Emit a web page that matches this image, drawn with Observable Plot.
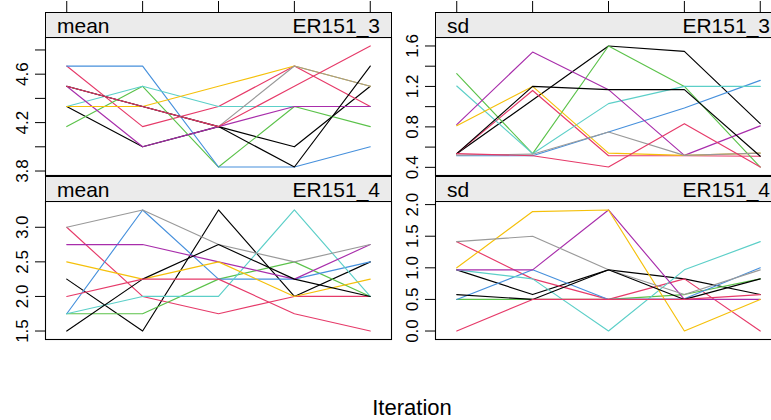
<!DOCTYPE html>
<html><head><meta charset="utf-8">
<script src="https://cdn.jsdelivr.net/npm/d3@7"></script>
<script src="https://cdn.jsdelivr.net/npm/@observablehq/plot@0.6"></script>
<style>
body{margin:0;background:#fff;}
#fig{position:relative;width:771px;height:420px;overflow:hidden;font-family:"Liberation Sans",Arial,Helvetica,sans-serif;background:#fff;}
.panel{position:absolute;}
.panel svg{overflow:visible;background:none;max-width:none;display:block;}
.strip{position:absolute;box-sizing:border-box;border:1px solid #000;background:#ebebeb;font-size:21px;line-height:25px;color:#000;}
.strip .l{position:absolute;left:11px;top:0;}
.strip .r{position:absolute;right:11px;top:0;}
.xlab{position:absolute;left:212px;width:400px;top:397px;text-align:center;font-size:22px;line-height:22px;color:#000;}
</style>
</head><body>
<div id="fig"></div>
<script>
// ---- data ----
const iterations = [1, 2, 3, 4, 5];
const chainColors = ["#000000", "#E63A69", "#5BC24A", "#4690DC", "#5CCFC8",
                     "#A82DAB", "#F5C00A", "#999999", "#000000", "#E63A69"];
const statNames = ["mean", "sd", "mean", "sd"];
const varNames = ["ER151_3", "ER151_3", "ER151_4", "ER151_4"];

const meanER151_3 = [
  [4.333, 4.0, 4.167, 4.0, 4.5],
  [4.667, 4.167, 4.333, 4.667, 4.333],
  [4.167, 4.5, 3.833, 4.333, 4.167],
  [4.667, 4.667, 3.833, 3.833, 4.0],
  [4.333, 4.5, 4.333, 4.333, 4.333],
  [4.5, 4.0, 4.167, 4.333, 4.333],
  [4.333, 4.333, 4.5, 4.667, 4.5],
  [4.5, 4.333, 4.167, 4.667, 4.5],
  [4.5, 4.333, 4.167, 3.833, 4.667],
  [4.5, 4.333, 4.167, 4.5, 4.833]
];
const sdER151_3 = [
  [0.535, 1.065, 1.6, 1.547, 0.832],
  [0.535, 1.16, 0.515, 0.515, 0.51],
  [1.326, 0.535, 1.6, 1.2, 0.403],
  [0.515, 0.515, 0.75, 0.987, 1.26],
  [1.204, 0.535, 1.03, 1.2, 1.2],
  [0.822, 1.54, 1.168, 0.518, 0.81],
  [0.812, 1.2, 0.54, 0.518, 0.54],
  [0.52, 0.53, 0.749, 0.518, 0.54],
  [0.535, 1.2, 1.168, 1.168, 0.51],
  [0.535, 0.515, 0.403, 0.832, 0.403]
];
const meanER151_4 = [
  [2.25, 1.5, 3.25, 2.0, 2.5],
  [3.0, 2.0, 1.75, 2.0, 2.0],
  [1.75, 1.75, 2.25, 2.5, 2.0],
  [1.75, 3.25, 2.25, 2.25, 2.5],
  [1.75, 2.0, 2.0, 3.25, 2.0],
  [2.75, 2.75, 2.5, 2.25, 2.75],
  [2.5, 2.25, 2.5, 2.0, 2.25],
  [3.0, 3.25, 2.75, 2.5, 2.75],
  [1.5, 2.25, 2.75, 2.25, 2.0],
  [2.0, 2.25, 2.25, 1.75, 1.5]
];
const sdER151_4 = [
  [0.968, 0.577, 0.968, 0.825, 0.577],
  [1.414, 0.825, 0.5, 0.825, 0.0],
  [0.5, 0.5, 0.5, 0.577, 0.825],
  [0.5, 0.968, 0.5, 0.51, 1.0],
  [0.968, 0.825, 0.0, 0.968, 1.414],
  [0.968, 0.968, 1.915, 0.5, 0.5],
  [1.0, 1.89, 1.915, 0.0, 0.5],
  [1.414, 1.5, 0.97, 0.577, 0.968],
  [0.577, 0.5, 0.968, 0.5, 0.825],
  [0.0, 0.5, 0.5, 0.5, 0.577]
];

const ticksMean3 = [3.8, 4.0, 4.2, 4.4, 4.6, 4.8];
const labelsMean3 = [3.8, 4.2, 4.6];
const ticksSd3 = [0.4, 0.6, 0.8, 1.0, 1.2, 1.4, 1.6];
const labelsSd3 = [0.4, 0.8, 1.2, 1.6];
const ticksMean4 = [1.5, 2.0, 2.5, 3.0];
const labelsMean4 = [1.5, 2.0, 2.5, 3.0];
const ticksSd4 = [0.0, 0.5, 1.0, 1.5, 2.0];
const labelsSd4 = [0.0, 0.5, 1.0, 1.5, 2.0];
const xLabel = "Iteration";

// ---- layout ----
const seriesList = [meanER151_3, sdER151_3, meanER151_4, sdER151_4];
const tickList = [ticksMean3, ticksSd3, ticksMean4, ticksSd4];
const labelList = [labelsMean3, labelsSd3, labelsMean4, labelsSd4];
const colLeft = [0, 390];
const rowTop = [0, 175];
const rowMarginTop = [37, 26];
const bodyH = 138, marginL = 45, bodyW = 346;
const font = '"Liberation Sans", Arial, Helvetica, sans-serif';

const fig = document.getElementById("fig");

seriesList.forEach((series, p) => {
  const col = p % 2, row = Math.floor(p / 2);
  const rows = [];
  series.forEach((vals, c) => vals.forEach((v, i) =>
    rows.push({chain: c + 1, iter: iterations[i], value: v, color: chainColors[c]})));
  const [lo, hi] = d3.extent(rows, d => d.value);
  const pad = (hi - lo) * 0.07;
  const xpad = (d3.max(iterations) - d3.min(iterations)) * 0.07;
  const labels = labelList[p];
  const mt = rowMarginTop[row];
  const chart = Plot.plot({
    width: marginL + bodyW,
    height: mt + bodyH,
    marginLeft: marginL, marginRight: 0, marginTop: mt, marginBottom: 0,
    style: {fontSize: "17px", fontFamily: font, background: "none", overflow: "visible", color: "#000"},
    x: {domain: [d3.min(iterations) - xpad, d3.max(iterations) + xpad], axis: null},
    y: {domain: [lo - pad, hi + pad], axis: null},
    color: {type: "identity"},
    marks: [
      Plot.axisY({ticks: tickList[p], tickSize: 10, tickRotate: -90, tickPadding: 8, label: null,
        tickFormat: d => labels.some(l => Math.abs(l - d) < 1e-9) ? d.toFixed(1) : ""}),
      row === 0 ? Plot.axisX({anchor: "top", ticks: iterations, tickSize: 12, dy: -25,
        label: null, tickFormat: () => ""}) : null,
      Plot.line(rows, {x: "iter", y: "value", z: "chain", stroke: "color", strokeWidth: 1.15}),
      Plot.frame({stroke: "#000", strokeWidth: 1.1})
    ]
  });
  const wrap = document.createElement("div");
  wrap.className = "panel";
  wrap.style.left = colLeft[col] + "px";
  wrap.style.top = rowTop[row] + "px";
  wrap.style.width = (marginL + bodyW) + "px";
  wrap.appendChild(chart);
  fig.appendChild(wrap);

  const strip = document.createElement("div");
  strip.className = "strip";
  strip.style.left = (colLeft[col] + marginL) + "px";
  strip.style.top = (rowTop[row] + mt - 25) + "px";
  strip.style.width = (bodyW + 1) + "px";
  strip.style.height = "26px";
  const l = document.createElement("span"); l.className = "l"; l.textContent = statNames[p];
  const r = document.createElement("span"); r.className = "r"; r.textContent = varNames[p];
  strip.appendChild(l); strip.appendChild(r);
  fig.appendChild(strip);
});

const xl = document.createElement("div");
xl.className = "xlab";
xl.textContent = xLabel;
fig.appendChild(xl);
</script>
</body></html>
